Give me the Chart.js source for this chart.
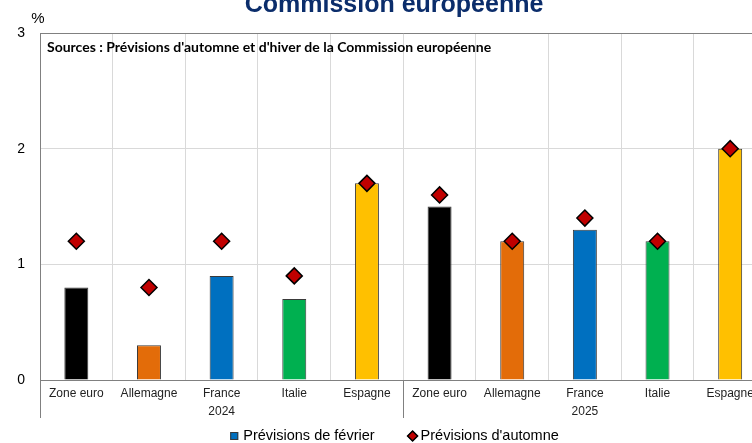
<!DOCTYPE html>
<html>
<head>
<meta charset="utf-8">
<script src="https://cdn.jsdelivr.net/npm/chart.js@4/dist/chart.umd.min.js"></script>
<style>
  html, body { margin: 0; padding: 0; background: #fff; overflow: hidden; }
  #wrap { width: 776px; height: 443px; }
</style>
</head>
<body>
<div id="wrap"><canvas id="chart" width="776" height="443"></canvas></div>
<script>
// ─── Data ──────────────────────────────────────────────
const countries = ['Zone euro', 'Allemagne', 'France', 'Italie', 'Espagne'];
const years = ['2024', '2025'];
const fevrier = [0.8, 0.3, 0.9, 0.7, 1.7, 1.5, 1.2, 1.3, 1.2, 2.0];
const automne = [1.2, 0.8, 1.2, 0.9, 1.7, 1.6, 1.2, 1.4, 1.2, 2.0];
const yTicks = [0, 1, 2, 3];

const countryColors = ['#000000', '#E36C09', '#0070C0', '#00B050', '#FFC000'];

// year label goes under the middle country of each group
const labels = [];
years.forEach(y => {
    countries.forEach((c, i) => {
        labels.push(i === 2 ? [c, y] : [c, '']);
    });
});
const barColors = labels.map((_, i) => countryColors[i % countries.length]);

const FONT = "'Liberation Sans', Arial, sans-serif";

// ─── Extra drawing: title, %, source note, year separators, legend ──
const decorations = {
    id: 'decorations',
    afterDraw(chart) {
        const { ctx, chartArea, scales } = chart;
        const x = scales.x;
        ctx.save();

        // title, mostly cut off at the top
        ctx.fillStyle = '#0B2D6B';
        ctx.font = "bold 25px " + FONT;
        ctx.textAlign = 'center';
        ctx.textBaseline = 'alphabetic';
        ctx.fillText('Commission européenne', 394, 12);

        // unit
        ctx.fillStyle = '#000';
        ctx.font = "15px " + FONT;
        ctx.textBaseline = 'middle';
        ctx.fillText('%', 38, 19);

        // source note
        ctx.font = "bold 14px Lato, 'Open Sans', sans-serif";
        ctx.textAlign = 'left';
        ctx.fillText("Sources : Prévisions d'automne et d'hiver de la Commission européenne",
            chartArea.left + 7, chartArea.top + 14);

        // year group separators
        ctx.strokeStyle = '#808080';
        ctx.lineWidth = 1;
        const n = countries.length;
        const seps = [x.left];
        for (let g = 1; g < years.length; g++) {
            seps.push((x.getPixelForValue(g * n - 1) + x.getPixelForValue(g * n)) / 2);
        }
        seps.forEach(px => {
            const p = Math.round(px) + 0.5;
            ctx.beginPath();
            ctx.moveTo(p, chartArea.bottom);
            ctx.lineTo(p, chartArea.bottom + 38);
            ctx.stroke();
        });

        // legend
        const ds = chart.data.datasets;
        ctx.font = "14.5px " + FONT;
        ctx.textBaseline = 'middle';
        const ly = 436;
        const w0 = ctx.measureText(ds[0].label).width;
        const w1 = ctx.measureText(ds[1].label).width;
        const total = 13 + w0 + 33 + 10 + w1;
        let lx = 393 - total / 2;
        ctx.fillStyle = '#0070C0';
        ctx.strokeStyle = '#3a3a3a';
        ctx.fillRect(lx, ly - 4, 8, 8);
        ctx.strokeRect(lx + 0.5, ly - 3.5, 7, 7);
        ctx.fillStyle = '#000';
        ctx.fillText(ds[0].label, lx + 13, ly);
        lx += 13 + w0 + 33;
        Chart.helpers.drawPoint(ctx, { pointStyle: 'rectRot', radius: 5, borderWidth: 1.5 }, lx + 5, ly);
        ctx.fillStyle = '#C00000';
        ctx.strokeStyle = '#000';
        ctx.lineWidth = 1.5;
        Chart.helpers.drawPoint(ctx, { pointStyle: 'rectRot', radius: 5, borderWidth: 1.5 }, lx + 5, ly);
        ctx.fillStyle = '#000';
        ctx.fillText(ds[1].label, lx + 10 + 3, ly);

        ctx.restore();
    }
};

new Chart(document.getElementById('chart'), {
    data: {
        labels: labels,
        datasets: [{
            type: 'bar',
            label: 'Prévisions de février',
            data: fevrier,
            backgroundColor: barColors,
            borderColor: '#3a3a3a',
            borderWidth: 1,
            barPercentage: 0.33,
            categoryPercentage: 1,
            order: 2
        }, {
            type: 'line',
            label: "Prévisions d'automne",
            data: automne,
            showLine: false,
            pointStyle: 'rectRot',
            pointRadius: 8,
            pointBackgroundColor: '#C00000',
            pointBorderColor: '#000',
            pointBorderWidth: 1.5,
            order: 1
        }]
    },
    options: {
        responsive: false,
        animation: false,
        layout: { padding: { top: 33, right: 2, left: 0, bottom: 0 } },
        plugins: {
            legend: { display: false },
            tooltip: { enabled: false }
        },
        scales: {
            x: {
                afterFit(scale) { scale.height = 63; },
                grid: {
                    offset: true,
                    color: '#d9d9d9',
                    drawTicks: false
                },
                border: { color: '#808080' },
                ticks: {
                    color: '#222',
                    padding: 4,
                    maxRotation: 0,
                    autoSkip: false,
                    font: { family: FONT, size: 12, lineHeight: 1.55 }
                }
            },
            y: {
                min: 0,
                max: 3,
                afterFit(scale) { scale.width = 40; },
                afterBuildTicks(scale) { scale.ticks = yTicks.map(v => ({ value: v })); },
                grid: {
                    color: ctx => ctx.tick && ctx.tick.value === 3 ? '#808080' : '#d9d9d9',
                    drawTicks: false
                },
                border: { color: '#808080' },
                ticks: {
                    color: '#000',
                    padding: 15,
                    font: { family: FONT, size: 14 }
                }
            }
        }
    },
    plugins: [decorations]
});
</script>
</body>
</html>
